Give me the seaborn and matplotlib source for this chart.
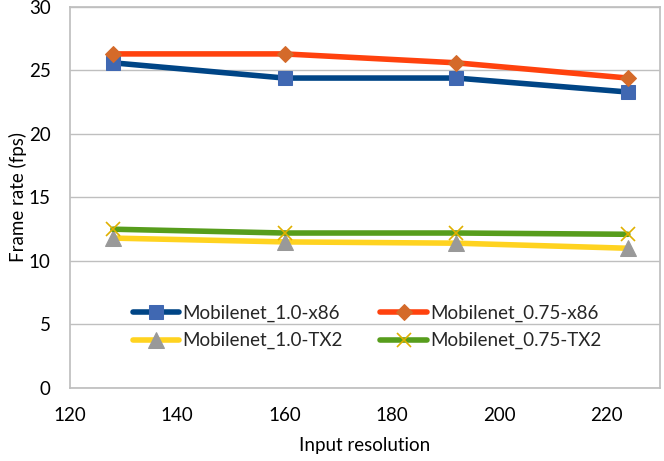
import matplotlib
matplotlib.use("Agg")
import matplotlib.pyplot as plt
import seaborn as sns
import pandas as pd

# Data
resolution = [128, 160, 192, 224]
mobilenet_10_x86 = [25.6, 24.4, 24.4, 23.3]
mobilenet_075_x86 = [26.3, 26.3, 25.6, 24.4]
mobilenet_10_tx2 = [11.8, 11.5, 11.4, 11.0]
mobilenet_075_tx2 = [12.5, 12.2, 12.2, 12.1]
series_names = ["Mobilenet_1.0-x86", "Mobilenet_0.75-x86",
                "Mobilenet_1.0-TX2", "Mobilenet_0.75-TX2"]

df = pd.DataFrame({
    "Input resolution": resolution * 4,
    "fps": mobilenet_10_x86 + mobilenet_075_x86 + mobilenet_10_tx2 + mobilenet_075_tx2,
    "series": [n for n in series_names for _ in resolution],
})

sns.set_theme(style="white")
plt.rcParams["font.family"] = ["Lato", "DejaVu Sans"]

styles = {
    "Mobilenet_1.0-x86":  dict(color="#004586", marker="s", mfc="#4068B2", mec="#4068B2", ms=10),
    "Mobilenet_0.75-x86": dict(color="#FF420E", marker="D", mfc="#D46A2A", mec="#D46A2A", ms=8),
    "Mobilenet_1.0-TX2":  dict(color="#FFD320", marker="^", mfc="#999999", mec="#999999", ms=11),
    "Mobilenet_0.75-TX2": dict(color="#579D1C", marker="x", mfc="#E0B000", mec="#E0B000", ms=10, mew=1.2),
}

fig = plt.figure(figsize=(6.64, 4.61), dpi=100)
ax = fig.add_axes([0.1054, 0.1584, 0.8886, 0.8266])

for name in series_names:
    sub = df[df["series"] == name]
    sns.lineplot(data=sub, x="Input resolution", y="fps", ax=ax, label=name,
                 linewidth=4, **styles[name])

ax.set_xlim(120, 230)
ax.set_ylim(0, 30)
ax.set_xticks([120, 140, 160, 180, 200, 220])
ax.set_yticks(range(0, 31, 5))
ax.yaxis.grid(True, color="#BFBFBF", linewidth=1)
ax.xaxis.grid(False)
for s in ["top", "right", "left", "bottom"]:
    ax.spines[s].set_color("#BFBFBF")
ax.tick_params(axis="y", labelsize=13.5, colors="#000000", length=0, pad=14)
ax.tick_params(axis="x", labelsize=13.5, colors="#000000", length=0, pad=14)
ax.set_xlabel("Input resolution", fontsize=13.5, color="#000000", labelpad=9)
ax.set_ylabel("Frame rate (fps)", fontsize=13.5, color="#000000", labelpad=1)

# row-wise legend order: matplotlib fills columns first
handles, labels = ax.get_legend_handles_labels()
order = [0, 2, 1, 3]
ax.legend([handles[i] for i in order], [labels[i] for i in order],
          ncol=2, loc="center", bbox_to_anchor=(0.503, 0.16), frameon=False,
          fontsize=13.5, handlelength=2.5, handletextpad=0.15,
          columnspacing=2.0, labelspacing=0.55)

fig.savefig("out.png", dpi=100)
